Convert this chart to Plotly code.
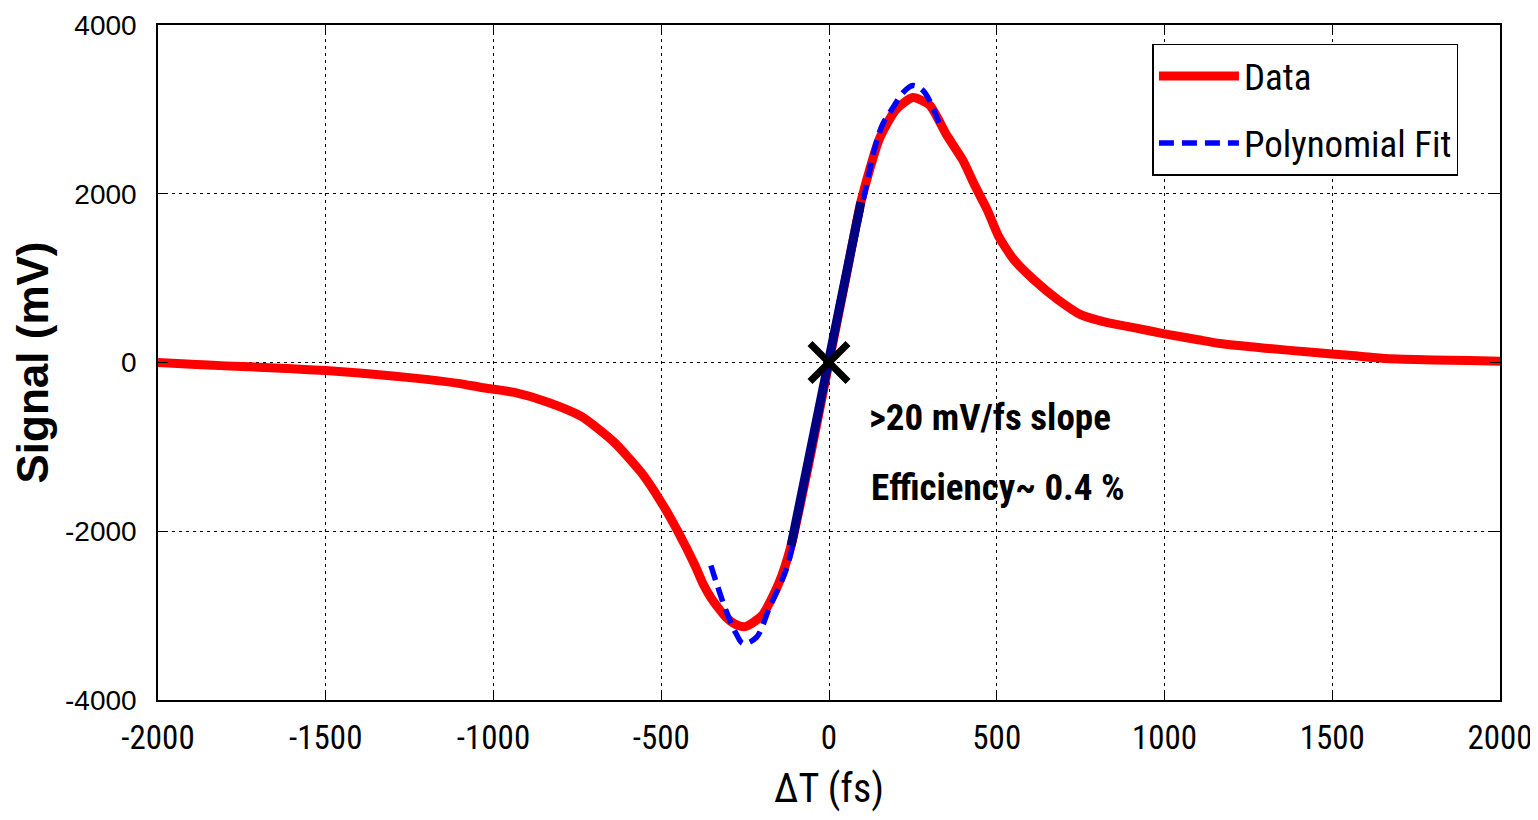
import plotly.graph_objects as go

data_x = [-2000, -1900, -1800, -1700, -1600, -1500, -1400, -1300, -1200, -1100,
          -1036, -938, -836, -738, -640, -560, -500, -449, -400, -376,
          -350, -307, -280, -250, -200, -150, -113, -50, 0, 50, 95, 150, 200, 250,
          300, 350, 400, 432, 473, 506, 551, 610, 682, 750, 830, 908, 1000, 1100, 1165,
          1300, 1449, 1550, 1660, 1800, 1910, 2000]
data_y = [0, -20, -40, -55, -75, -95, -125, -160, -200, -250,
          -296, -355, -473, -639, -947, -1302, -1657, -2012, -2400, -2620,
          -2800, -3020, -3100, -3130, -3000, -2620, -2170, -1000, 0, 1000, 1900, 2650, 3000, 3140,
          3050, 2700, 2390, 2118, 1798, 1491, 1219, 982, 746, 568, 473, 414, 340, 270, 225,
          170, 118, 85, 47, 30, 24, 15]

fit_x = [-352, -331, -307, -277, -256, -217, -177, -137, -117, 0, 110, 137, 161, 191, 221, 250, 280, 304, 331]
fit_y = [-2406, -2666, -2940, -3212, -3330, -3260, -2900, -2550, -2310, 0, 2074, 2548, 2832, 3022, 3200, 3283, 3223, 3070, 2809]

slope_x = [-113, 0, 95]
slope_y = [-2170, 0, 1900]

zero_x = [0]
zero_y = [0]

x_ticks = [-2000, -1500, -1000, -500, 0, 500, 1000, 1500, 2000]
y_ticks = [-4000, -2000, 0, 2000, 4000]

NARROW = "Liberation Sans Narrow, Arial Narrow, Roboto Condensed, Liberation Sans, Arial, sans-serif"

fig = go.Figure()
fig.add_trace(go.Scatter(x=data_x, y=data_y, mode="lines", name="Data",
                         line=dict(color="#ff0000", width=9, shape="spline", smoothing=0.6),
                         legendgroup="a"))
fig.add_trace(go.Scatter(x=fit_x, y=fit_y, mode="lines", name="Polynomial Fit",
                         line=dict(color="#0000ff", width=5.5, dash="15px,8px", shape="spline"),
                         legendgroup="b"))
fig.add_trace(go.Scatter(x=slope_x, y=slope_y, mode="lines", showlegend=False,
                         line=dict(color="#000080", width=9)))
fig.add_trace(go.Scatter(x=zero_x, y=zero_y, mode="markers", showlegend=False,
                         marker=dict(symbol="x-thin", size=38, color="black",
                                     line=dict(color="black", width=7))))

fig.add_annotation(x=112, y=-652, xref="x", yref="y", xanchor="left", yanchor="middle",
                   text="<b>>20 mV/fs slope</b>", showarrow=False,
                   font=dict(family=NARROW, size=37, color="black"))
fig.add_annotation(x=120, y=-1481, xref="x", yref="y", xanchor="left", yanchor="middle",
                   text="<b>Efficiency~ 0.4 %</b>", showarrow=False,
                   font=dict(family=NARROW, size=37, color="black"))

axis_common = dict(showline=True, linecolor="black", linewidth=1.5, mirror="ticks",
                   ticks="inside", ticklen=10, tickcolor="black", tickwidth=1.2,
                   showgrid=True, gridcolor="black", gridwidth=1.3, griddash="3px,4px",
                   zeroline=False)

fig.update_xaxes(range=[-2000, 2000], tickvals=x_ticks, ticktext=[str(v) for v in x_ticks],
                 tickfont=dict(family=NARROW, size=33, color="black"),
                 title=dict(text="ΔT (fs)", font=dict(family=NARROW, size=40, color="black"), standoff=18),
                 ticklabelstandoff=8, **axis_common)
fig.update_yaxes(range=[-4000, 4000], tickvals=y_ticks, ticktext=[str(v) for v in y_ticks],
                 tickfont=dict(family="Liberation Sans, Arial, sans-serif", size=28, color="black"),
                 title=dict(text="<b>Signal (mV)</b>", font=dict(family="Liberation Sans, Arial, sans-serif", size=44, color="black"), standoff=12),
                 ticklabelstandoff=14, **axis_common)

fig.update_layout(
    width=1538, height=820,
    margin=dict(l=150, r=46, t=17, b=128, autoexpand=False),
    paper_bgcolor="white", plot_bgcolor="white",
    showlegend=True,
    legend=dict(x=0.741, y=0.972, xanchor="left", yanchor="top",
                bgcolor="white", bordercolor="black", borderwidth=1.5,
                font=dict(family=NARROW, size=37, color="black"),
                itemwidth=80, tracegroupgap=16, traceorder="grouped"),
)

fig.write_html("out.html")
